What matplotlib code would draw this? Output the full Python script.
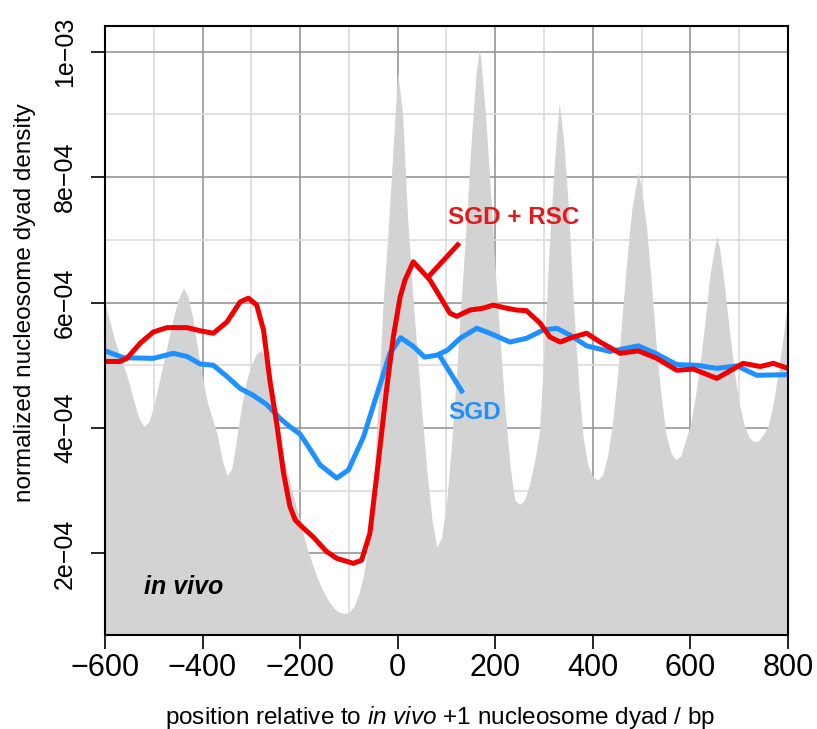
import numpy as np
import matplotlib
matplotlib.use("Agg")
import matplotlib.pyplot as plt
from matplotlib.ticker import MultipleLocator

# in vivo dyad density (grey background), units of 1e-4
gray_x = [-600, -590, -580, -570, -560, -550, -540, -530, -520, -510, -500, -490, -480, -470,
          -460, -450, -439, -430, -420, -410, -400, -390, -380, -370, -360, -350, -340, -330,
          -320, -310, -300, -290, -280, -270, -260, -250, -240, -230, -220, -210, -200, -190,
          -180, -170, -160, -150, -140, -130, -120, -110, -100, -90, -80, -70, -60, -50, -40,
          -30, -20, -10, 0, 10, 20, 30, 40, 50, 60, 70, 80, 90, 100, 110, 120, 130, 140, 150,
          160, 167, 170, 180, 190, 200, 210, 220, 230, 240, 250, 260, 270, 280, 290, 300, 310,
          320, 331, 340, 350, 360, 370, 380, 390, 400, 410, 420, 430, 440, 450, 460, 470, 480,
          493, 500, 510, 520, 530, 540, 550, 560, 570, 580, 590, 600, 610, 620, 630, 640, 654,
          660, 670, 680, 690, 700, 710, 720, 730, 740, 750, 760, 770, 780, 790, 800]
gray_y = [6.00, 5.70, 5.40, 5.15, 4.95, 4.70, 4.40, 4.15, 4.02, 4.10, 4.35, 4.70, 5.05, 5.40,
          5.75, 6.05, 6.23, 6.10, 5.75, 5.25, 4.80, 4.40, 4.15, 3.90, 3.50, 3.24, 3.35, 3.85,
          4.35, 4.75, 5.00, 5.18, 5.24, 5.10, 4.70, 4.10, 3.70, 3.40, 3.10, 2.80, 2.50, 2.20,
          1.95, 1.72, 1.52, 1.36, 1.22, 1.12, 1.06, 1.04, 1.06, 1.15, 1.35, 1.65, 2.15, 3.00, 4.40,
          6.00, 7.10, 8.40, 9.68, 9.00, 7.40, 6.20, 5.20, 4.20, 3.30, 2.55, 2.10, 2.25, 2.80, 3.70,
          4.80, 6.00, 7.20, 8.50, 9.60, 10.04, 9.90, 9.00, 7.80, 6.50, 5.40, 4.30, 3.40, 2.85,
          2.78, 2.85, 3.10, 3.45, 3.90, 5.20, 6.80, 8.10, 9.19, 8.60, 7.50, 6.00, 4.80, 3.85,
          3.40, 3.22, 3.17, 3.25, 3.55, 4.05, 4.80, 5.80, 6.70, 7.50, 8.08, 7.80, 7.20, 6.30,
          5.30, 4.50, 3.90, 3.60, 3.50, 3.55, 3.80, 4.05, 4.50, 5.05, 5.70, 6.45, 7.07, 6.85,
          6.25, 5.55, 4.90, 4.40, 4.05, 3.85, 3.78, 3.80, 3.90, 4.05, 4.40, 4.90, 5.45, 6.05]

# SGD + RSC reconstitution
rsc_x = [-600, -569, -555, -528, -501, -473, -432, -405, -378, -350, -323, -306, -289, -275,
         -262, -248, -234, -221, -210, -193, -173, -146, -125, -91, -74, -57, -40, -23, -9, 5,
         15, 32, 66, 87, 107, 121, 148, 175, 196, 223, 244, 264, 292, 312, 333, 360, 387, 415,
         456, 493, 531, 572, 606, 654, 708, 743, 770, 800]
rsc_y = [5.06, 5.06, 5.11, 5.35, 5.53, 5.60, 5.60, 5.55, 5.51, 5.69, 6.01, 6.07, 5.96, 5.56,
         4.76, 4.07, 3.28, 2.75, 2.53, 2.40, 2.26, 2.03, 1.92, 1.84, 1.89, 2.32, 3.44, 4.60, 5.45,
         6.09, 6.36, 6.65, 6.36, 6.09, 5.83, 5.78, 5.88, 5.91, 5.96, 5.91, 5.88, 5.87, 5.67, 5.45,
         5.37, 5.45, 5.51, 5.37, 5.19, 5.23, 5.11, 4.92, 4.94, 4.79, 5.03, 4.98, 5.03, 4.95]

# SGD only
sgd_x = [-600, -562, -501, -460, -432, -405, -378, -350, -323, -296, -268, -241, -221, -200,
         -187, -159, -125, -101, -70, -40, -16, 6, 32, 55, 80, 102, 128, 162, 189, 230, 264,
         298, 326, 353, 387, 435, 493, 531, 572, 613, 654, 695, 736, 800]
sgd_y = [5.23, 5.12, 5.11, 5.19, 5.14, 5.02, 5.00, 4.82, 4.63, 4.52, 4.37, 4.15, 4.02, 3.90,
         3.75, 3.41, 3.20, 3.33, 3.86, 4.60, 5.19, 5.44, 5.30, 5.13, 5.16, 5.24, 5.43, 5.59,
         5.51, 5.37, 5.43, 5.56, 5.59, 5.48, 5.31, 5.22, 5.31, 5.18, 5.01, 5.00, 4.95, 4.99,
         4.84, 4.85]

xticks = [-600, -400, -200, 0, 200, 400, 600, 800]
xtick_labels = ["\u2212600", "\u2212400", "\u2212200", "0", "200", "400", "600", "800"]
yticks = [2e-4, 4e-4, 6e-4, 8e-4, 1e-3]
ytick_labels = ["2e\u221204", "4e\u221204", "6e\u221204", "8e\u221204", "1e\u221203"]

SCALE = 1e-4
RED, BLUE = "#f00000", "#1e90ff"
plt.rcParams["font.family"] = ["Liberation Sans", "DejaVu Sans"]
plt.rcParams["mathtext.fontset"] = "custom"
plt.rcParams["mathtext.rm"] = "Liberation Sans"
plt.rcParams["mathtext.it"] = "Liberation Sans:italic"

fig = plt.figure(figsize=(8.17, 7.29), dpi=100)
ax = fig.add_axes([0.1285, 0.1289, 0.836, 0.8358])

gx = np.array(gray_x); gy = np.array(gray_y) * SCALE
ax.fill_between(gx, gy, 0, color="#d3d3d3", lw=0, zorder=1)
ax.plot(sgd_x, np.array(sgd_y) * SCALE, color=BLUE, lw=3.6, zorder=3,
        solid_joinstyle="round", solid_capstyle="round")
ax.plot(rsc_x, np.array(rsc_y) * SCALE, color=RED, lw=3.6, zorder=4,
        solid_joinstyle="round", solid_capstyle="round")

# labels with pointer lines
ax.plot([62.7, 123], [6.41 * SCALE, 6.92 * SCALE], color=RED, lw=3.6, zorder=4)
ax.text(237, 7.35 * SCALE, "SGD + RSC", color="#e31a1c", fontsize=17.5, fontweight="bold",
        ha="center", va="center", zorder=5)
ax.plot([85.3, 131], [5.16 * SCALE, 4.59 * SCALE], color=BLUE, lw=3.6, zorder=3)
ax.text(157, 4.24 * SCALE, "SGD", color=BLUE, fontsize=17.5, fontweight="bold",
        ha="center", va="center", zorder=5)
ax.text(-521, 1.47 * SCALE, "in vivo", color="black", fontsize=18, fontweight="bold",
        fontstyle="italic", ha="left", va="center", zorder=5)

ax.set_xlim(-600, 800)
ax.set_ylim(0.697 * SCALE, 10.415 * SCALE)

ax.set_axisbelow(True)
ax.xaxis.set_minor_locator(MultipleLocator(100))
ax.yaxis.set_minor_locator(MultipleLocator(1e-4))
ax.grid(which="major", color="#969696", lw=1.2)
ax.grid(which="minor", color="#dcdcdc", lw=1.2)
ax.tick_params(which="minor", length=0)

ax.set_xticks(xticks)
ax.set_xticklabels(xtick_labels, fontsize=22)
ax.set_yticks(yticks)
ax.set_yticklabels(ytick_labels, fontsize=18, rotation=90, va="center")
ax.tick_params(which="major", direction="out", length=10, width=1.2, color="black")
ax.tick_params(axis="x", pad=3)
ax.tick_params(axis="y", pad=10)
for s in ax.spines.values():
    s.set_linewidth(1.5)
    s.set_zorder(6)

ax.set_xlabel("position relative to $\\mathit{in\\ vivo}$ +1 nucleosome dyad / bp",
              fontsize=17.5, va="center")
ax.xaxis.set_label_coords(0.4905, -0.1346)
ax.set_ylabel("normalized nucleosome dyad density", fontsize=17.5, va="center")
ax.yaxis.set_label_coords(-0.117, 0.545)

fig.savefig("out.png", dpi=100)
